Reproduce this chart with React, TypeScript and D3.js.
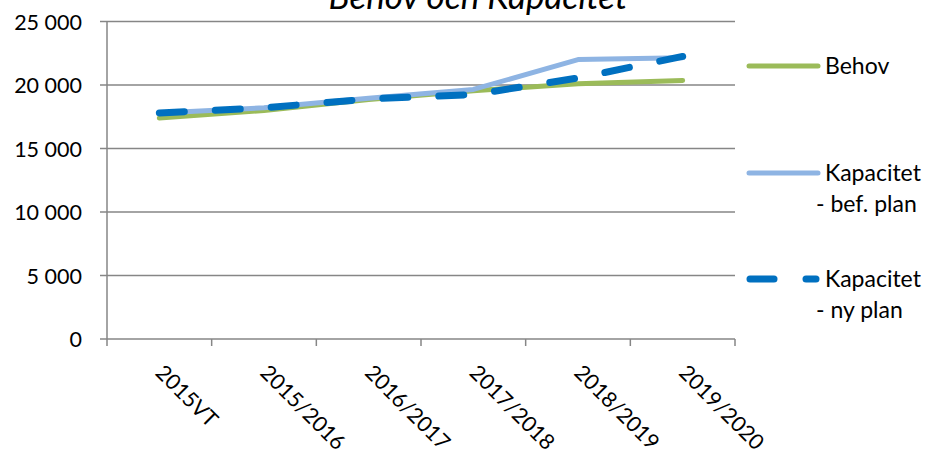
import * as d3 from "d3";

const categories = ["2015VT", "2015/2016", "2016/2017", "2017/2018", "2018/2019", "2019/2020"];
const behov = [17400, 18000, 18850, 19550, 20100, 20350];
const kapacitetBef = [17800, 18200, 18950, 19650, 22000, 22150];
const kapacitetNy = [17800, 18200, 18900, 19250, 20550, 22250];
const yTicks = [0, 5000, 10000, 15000, 20000, 25000];

const seriesList = [
    { name: ["Behov"], values: behov, color: "#9BBB59", width: 5, dash: null },
    { name: ["Kapacitet", "- bef. plan"], values: kapacitetBef, color: "#8EB4E3", width: 5, dash: null },
    { name: ["Kapacitet", "- ny plan"], values: kapacitetNy, color: "#0070C0", width: 7, dash: "25 31" },
];

const font = "Lato, 'Open Sans', sans-serif";
const gridColor = "#868686";

export default function App() {
    const left = 107;
    const right = 735;
    const top = 21.5;
    const bottom = 339;

    const x = d3.scaleBand().domain(categories).range([left, right]);
    const y = d3.scaleLinear().domain([0, 25000]).range([bottom, top]);
    const fmt = (v: number) => d3.format(",")(v).replace(/,/g, " ");

    const line = d3
        .line<number>()
        .x((_, i) => x(categories[i])! + x.bandwidth() / 2)
        .y((d) => y(d));

    const legendY = [66, 173, 279];

    return (
        <svg
            width={936}
            height={459}
            style={{ position: "absolute", left: 0, top: 0, background: "#fff" }}
            fontFamily={font}
        >
            {/* title is clipped at the top in the original too */}
            <text x={478} y={9} textAnchor="middle" fontSize={35} fontStyle="italic" fill="#000">
                Behov och Kapacitet
            </text>

            {yTicks.map((t) => (
                <g key={`y-${t}`}>
                    <line x1={left - 7} x2={right} y1={y(t)} y2={y(t)} stroke={gridColor} strokeWidth={1.5} />
                    <text x={82} y={y(t) + 8} textAnchor="end" fontSize={21.5} fill="#000">
                        {fmt(t)}
                    </text>
                </g>
            ))}
            <line x1={left} x2={left} y1={top} y2={bottom} stroke={gridColor} strokeWidth={1.5} />

            {[...categories.map((c) => x(c)!), right].map((px, i) => (
                <line key={`xt-${i}`} x1={px} x2={px} y1={bottom} y2={bottom + 7} stroke={gridColor} strokeWidth={1.5} />
            ))}

            {categories.map((c) => {
                const cx = x(c)! + x.bandwidth() / 2;
                return (
                    <text
                        key={`xl-${c}`}
                        transform={`translate(${cx - 5}, 374) rotate(45)`}
                        fontSize={21.5}
                        fill="#000"
                    >
                        {c}
                    </text>
                );
            })}

            {seriesList.map((s) => (
                <path
                    key={s.name.join(" ")}
                    d={line(s.values) || ""}
                    fill="none"
                    stroke={s.color}
                    strokeWidth={s.width}
                    strokeDasharray={s.dash || undefined}
                    strokeLinecap="round"
                    strokeLinejoin="round"
                />
            ))}

            {seriesList.map((s, i) => (
                <g key={`lg-${i}`}>
                    {s.dash ? (
                        <>
                            <line x1={750} x2={774} y1={legendY[i]} y2={legendY[i]} stroke={s.color} strokeWidth={s.width} strokeLinecap="round" />
                            <line x1={806} x2={816} y1={legendY[i]} y2={legendY[i]} stroke={s.color} strokeWidth={s.width} strokeLinecap="round" />
                        </>
                    ) : (
                        <line x1={749} x2={818} y1={legendY[i]} y2={legendY[i]} stroke={s.color} strokeWidth={s.width} strokeLinecap="round" />
                    )}
                    {s.name.map((n, j) => (
                        <text key={n} x={n.startsWith("-") ? 816 : 825} y={legendY[i] + 8 + j * 31} fontSize={23} fill="#000">
                            {n}
                        </text>
                    ))}
                </g>
            ))}
        </svg>
    );
}
